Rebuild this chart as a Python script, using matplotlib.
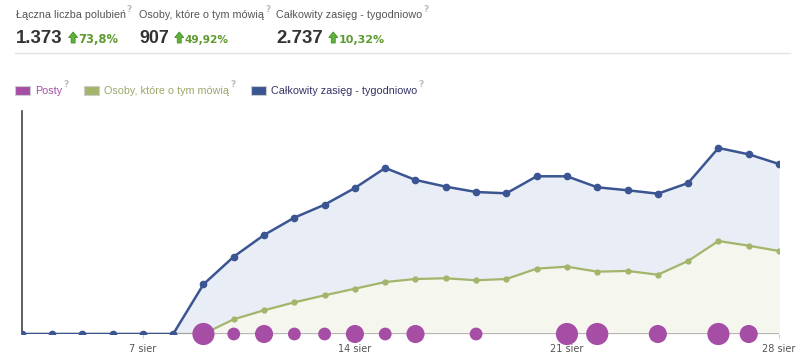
import matplotlib
matplotlib.use('Agg')
import matplotlib.pyplot as plt
from matplotlib.patches import Rectangle, Polygon

# data (days of August)
days = list(range(3, 29))
reach = [0, 0, 0, 0, 0, 0, 800, 1245, 1594, 1873, 2082, 2351, 2673, 2480,
         2372, 2286, 2265, 2539, 2539, 2362, 2314, 2259, 2431, 2995, 2893, 2737]
talking = [0, 0, 0, 0, 0, 0, 0, 161, 259, 346, 423, 495, 568, 601,
           609, 587, 601, 714, 736, 681, 689, 648, 798, 1016, 965, 907]
post_days = [9, 10, 11, 12, 13, 14, 15, 16, 18, 21, 22, 24, 26, 27]
post_counts = [3, 1, 2, 1, 1, 2, 1, 2, 1, 3, 3, 2, 3, 2]

tick_days = [7, 14, 21, 28]
tick_labels = ['7 sier', '14 sier', '21 sier', '28 sier']

header_labels = ['Łączna liczba polubień', 'Osoby, które o tym mówią', 'Całkowity zasięg - tygodniowo']
header_values = ['1.373', '907', '2.737']
header_changes = ['73,8%', '49,92%', '10,32%']

legend_labels = ['Posty', 'Osoby, które o tym mówią', 'Całkowity zasięg - tygodniowo']

BLUE = '#3b5592'
BLUE_FILL = '#e9edf5'
GREEN = '#a3b56b'
GREEN_FILL = '#f5f6ee'
PURPLE = '#a64ea6'

W, H = 799, 356
fig = plt.figure(figsize=(W / 100, H / 100), dpi=100)
fig.patch.set_facecolor('white')
renderer = fig.canvas.get_renderer()


def put(x, y, s, width=None, **kw):
    # place text at pixel coords (baseline); optionally fit to a pixel width
    t = fig.text(x / W, 1 - y / H, s, va='baseline', **kw)
    if width is not None:
        w = t.get_window_extent(renderer).width
        t.set_fontsize(t.get_fontsize() * width / w)
    return t.get_window_extent(renderer).x1


def up_arrow(x, y_base, w=9, h=11):
    # small green "up" icon, pixel coords (left, baseline)
    pts = [(x + w / 2, y_base - h), (x + w, y_base - h / 2), (x + w * 0.72, y_base - h / 2),
           (x + w * 0.72, y_base), (x + w * 0.28, y_base), (x + w * 0.28, y_base - h / 2),
           (x, y_base - h / 2)]
    pts = [(px / W, 1 - py / H) for px, py in pts]
    fig.add_artist(Polygon(pts, closed=True, facecolor='#62b23a', edgecolor='#3f8f26',
                           lw=0.6, transform=fig.transFigure))
    return x + w


# one font size for the small labels, sized so "Osoby, ktore o tym mowia" is ~124 px
probe = fig.text(0, 0, header_labels[1], fontsize=10, family='Liberation Sans')
small = 10 * 124 / probe.get_window_extent(renderer).width
probe.remove()

# header
header_x = [16, 139, 276]
value_w = [47, 30, 47]
change_w = [40, 44, 46]
for i in range(3):
    x = header_x[i]
    r = put(x, 18, header_labels[i], fontsize=small, color='#555555', family='Liberation Sans')
    put(r + 1, 12, '?', fontsize=6.5, color='#bbbbbb', family='DejaVu Sans', fontweight='bold')
    r = put(x, 43, header_values[i], width=value_w[i], fontsize=16, fontweight='bold',
            color='#333333', family='Liberation Sans')
    r = up_arrow(r + 6, 43)
    put(r + 1, 43, header_changes[i], width=change_w[i], fontsize=8, fontweight='bold',
        color='#5e9a30', family='DejaVu Sans')

fig.add_artist(plt.Line2D([15 / W, 790 / W], [1 - 53 / H] * 2, color='#e2e2e2', lw=1))

# legend
legend_x = [15, 84, 251]
legend_colors = [PURPLE, GREEN, BLUE]
legend_text_colors = [PURPLE, '#9aa86a', '#333366']
for x, lab, c, tc in zip(legend_x, legend_labels, legend_colors, legend_text_colors):
    fig.add_artist(Rectangle((x / W, 1 - 94.5 / H), 15 / W, 9 / H, facecolor=c,
                             edgecolor='#cccccc', lw=0.8, transform=fig.transFigure))
    r = put(x + 20, 93.5, lab, fontsize=small, color=tc, family='Liberation Sans')
    put(r + 1, 87, '?', fontsize=6.5, color='#bbbbbb', family='DejaVu Sans', fontweight='bold')

# chart
rect = [21.7 / W, 22 / H, (779 - 21.7) / W, (334 - 110.7) / H]
ax = fig.add_axes(rect)
ax2 = ax.twinx()
ax3 = ax.twinx()

reach_top = 3595
talk_top = 2440

ax.fill_between(days, reach, 0, color=BLUE_FILL, lw=0)
ax2.fill_between(days, talking, 0, color=GREEN_FILL, lw=0)
ax2.plot(days, talking, color=GREEN, lw=1.6, marker='o', ms=3.5, zorder=3)
ax3.axhline(0, color='#a3a3a3', lw=1.8, zorder=1)
ax3.plot(days, reach, color=BLUE, lw=1.8, marker='o', ms=4.5, zorder=3)
ax3.scatter(post_days, [0] * len(post_days), s=[85 * n for n in post_counts],
            color=PURPLE, zorder=5, clip_on=False, lw=0)

for a, top in [(ax, reach_top), (ax2, talk_top), (ax3, reach_top)]:
    a.set_xlim(3, 28)
    a.set_ylim(0, top)
    a.set_yticks([])
    for s in a.spines.values():
        s.set_visible(False)

ax3.spines['left'].set_visible(True)
ax3.spines['left'].set_color('#444444')
ax3.spines['left'].set_linewidth(1.2)

ax.set_xticks(tick_days)
ax.set_xticklabels(tick_labels)
ax.tick_params(axis='x', length=3, color='#cccccc', pad=4, labelsize=7, labelcolor='#555555')
ax.set_facecolor('none')

fig.savefig('out.png', dpi=100, facecolor='white')
